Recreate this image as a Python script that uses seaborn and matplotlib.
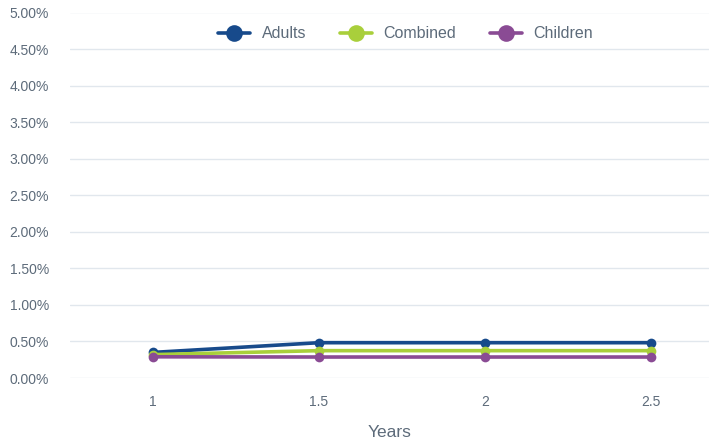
import matplotlib
matplotlib.use("Agg")
import matplotlib.pyplot as plt
import seaborn as sns
import pandas as pd
from matplotlib.ticker import FuncFormatter, MultipleLocator
from matplotlib.lines import Line2D

years = [1, 1.5, 2, 2.5]
adults = [0.35, 0.483, 0.483, 0.483]
combined = [0.32, 0.374, 0.374, 0.374]
children = [0.29, 0.287, 0.287, 0.287]
series_names = ["Adults", "Combined", "Children"]
colors = ["#174a8b", "#a9cf3b", "#8a4b94"]

df = pd.DataFrame({
    "Years": years * 3,
    "value": adults + combined + children,
    "series": sum([[n] * len(years) for n in series_names], []),
})

sns.set_theme(style="white")
plt.rcParams["font.family"] = ["Liberation Sans", "DejaVu Sans"]
text_color = "#5d6b7a"

fig = plt.figure(figsize=(7.16, 4.42), dpi=100)
ax = fig.add_axes([70 / 716, 1 - 378 / 442, (709 - 70) / 716, (378 - 12.5) / 442])

sns.lineplot(data=df, x="Years", y="value", hue="series", hue_order=series_names,
             palette=colors, marker="o", markersize=7, markeredgewidth=0,
             linewidth=2.6, ax=ax, legend=False)

ax.set_xlim(0.75, 2.675)
ax.set_ylim(0, 5)
ax.set_xticks(years)
ax.set_xticklabels(["1", "1.5", "2", "2.5"])
ax.yaxis.set_major_locator(MultipleLocator(0.5))
ax.yaxis.set_major_formatter(FuncFormatter(lambda v, p: f"{v:.2f}%"))
ax.grid(axis="y", color="#e1e7ed", linewidth=1)
ax.set_axisbelow(True)
for s in ax.spines.values():
    s.set_visible(False)
ax.tick_params(axis="both", length=0, labelsize=10, labelcolor=text_color)
ax.tick_params(axis="y", pad=15)
ax.tick_params(axis="x", pad=12)
ax.set_ylabel("")
ax.set_xlabel("Years", fontsize=12.5, color=text_color, labelpad=12)

handles = [Line2D([0], [0], color=c, linewidth=2.6, marker="o", markersize=12,
                  markeredgewidth=0) for c in colors]
leg = ax.legend(handles, series_names, loc="upper center", bbox_to_anchor=(0.525, 0.995),
                ncol=3, frameon=False, fontsize=11.5, handlelength=2.0,
                columnspacing=2.1, handletextpad=0.75, borderaxespad=0.35)
for t in leg.get_texts():
    t.set_color(text_color)

fig.savefig("out.png", dpi=100)
